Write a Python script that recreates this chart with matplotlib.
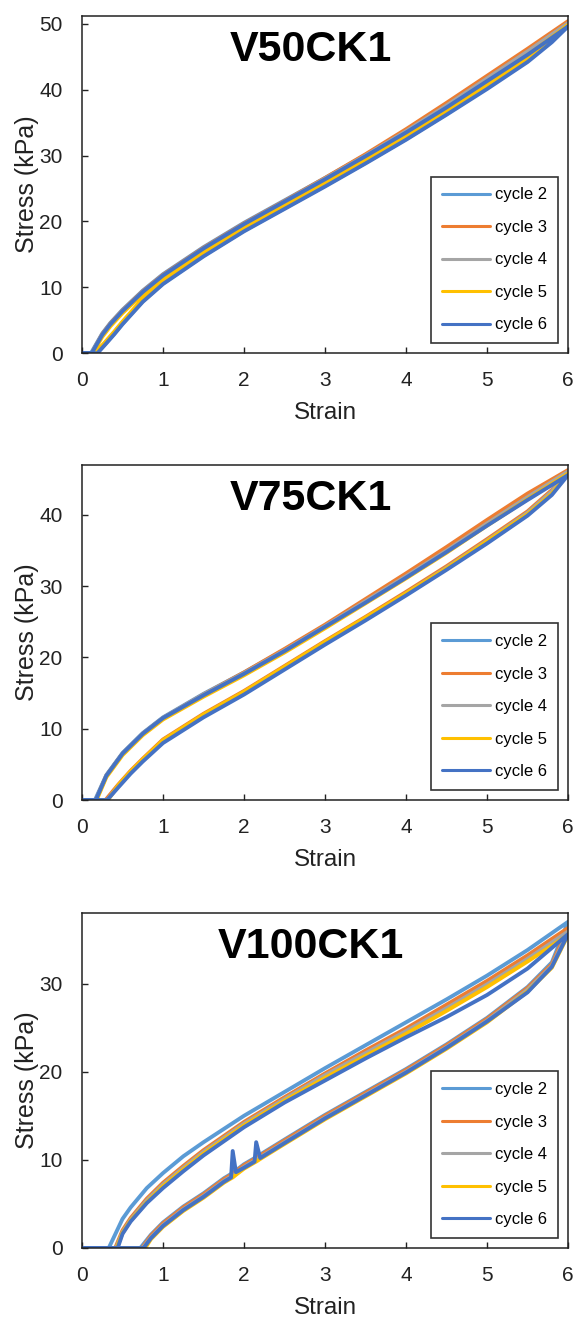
"""
Cyclic stress-strain loops (cycles 2-6) for V50CK1, V75CK1 and V100CK1.
"""

import matplotlib
matplotlib.use("Agg")
import matplotlib.pyplot as plt

plt.rcParams["font.family"] = ["Liberation Sans", "DejaVu Sans"]

cycles = ["cycle 2", "cycle 3", "cycle 4", "cycle 5", "cycle 6"]
colors = ["#5B9BD5", "#ED7D31", "#A5A5A5", "#FFC000", "#4472C4"]
titles = ["V50CK1", "V75CK1", "V100CK1"]
ylims = [51.2, 47, 38]
yticks = [[0, 10, 20, 30, 40, 50], [0, 10, 20, 30, 40], [0, 10, 20, 30]]

# ---- V50CK1 ----
v50_load_onset = [0.11, 0.12, 0.12, 0.13, 0.12]
v50_unload_onset = [0.17, 0.18, 0.18, 0.16, 0.19]
v50_load_strain = [0.25, 0.35, 0.5, 0.75, 1.0, 1.5, 2.0, 2.5, 3.0, 3.5, 4.0, 4.5, 5.0, 5.5, 6.0]
v50_load = [
    [3.0, 4.6, 6.6, 9.5, 12.0, 16.1, 19.8, 23.2, 26.6, 30.1, 33.8, 37.6, 41.7, 45.8, 50.0],
    [2.9, 4.5, 6.5, 9.4, 11.9, 16.0, 19.7, 23.1, 26.6, 30.2, 34.0, 38.0, 42.1, 46.2, 50.4],
    [2.8, 4.4, 6.4, 9.3, 11.8, 15.9, 19.6, 23.0, 26.5, 30.0, 33.7, 37.6, 41.7, 45.8, 50.1],
    [2.5, 4.1, 6.1, 9.0, 11.5, 15.6, 19.3, 22.7, 26.1, 29.6, 33.2, 37.0, 41.1, 45.2, 49.8],
    [2.8, 4.4, 6.4, 9.3, 11.8, 15.9, 19.6, 23.0, 26.4, 29.9, 33.5, 37.3, 41.3, 45.3, 49.6],
]
v50_unload_strain = [0.3, 0.4, 0.5, 0.75, 1.0, 1.5, 2.0, 2.5, 3.0, 3.5, 4.0, 4.5, 5.0, 5.5, 5.8, 6.0]
v50_unload = [
    [1.8, 3.2, 4.7, 8.1, 10.8, 15.0, 18.8, 22.2, 25.6, 29.1, 32.7, 36.5, 40.5, 44.6, 47.6, 50.0],
    [1.7, 3.1, 4.6, 8.0, 10.7, 14.9, 18.7, 22.1, 25.5, 29.0, 32.7, 36.6, 40.7, 44.9, 48.0, 50.4],
    [1.6, 3.0, 4.5, 7.9, 10.6, 14.8, 18.6, 22.0, 25.4, 28.9, 32.5, 36.3, 40.3, 44.5, 47.6, 50.1],
    [1.9, 3.3, 4.8, 8.3, 11.0, 15.2, 19.0, 22.4, 25.8, 29.3, 32.9, 36.7, 40.7, 44.8, 47.5, 49.8],
    [1.5, 2.9, 4.4, 7.8, 10.5, 14.7, 18.5, 21.9, 25.3, 28.8, 32.4, 36.2, 40.1, 44.2, 47.2, 49.6],
]

# ---- V75CK1 ----
v75_load_onset = [0.16, 0.17, 0.17, 0.18, 0.17]
v75_unload_onset = [0.30, 0.29, 0.31, 0.32, 0.31]
v75_load_strain = [0.3, 0.5, 0.75, 1.0, 1.5, 2.0, 2.5, 3.0, 3.5, 4.0, 4.5, 5.0, 5.5, 6.0]
v75_load = [
    [3.5, 6.6, 9.4, 11.6, 14.9, 17.9, 21.1, 24.5, 28.0, 31.5, 35.1, 38.9, 42.6, 46.0],
    [3.4, 6.5, 9.3, 11.5, 14.8, 17.9, 21.2, 24.6, 28.2, 31.8, 35.5, 39.3, 43.0, 46.3],
    [3.4, 6.5, 9.3, 11.5, 14.8, 17.8, 21.0, 24.4, 27.9, 31.4, 35.0, 38.8, 42.5, 46.1],
    [3.2, 6.3, 9.1, 11.3, 14.5, 17.5, 20.7, 24.1, 27.6, 31.1, 34.7, 38.5, 42.2, 45.8],
    [3.4, 6.5, 9.3, 11.5, 14.7, 17.7, 20.9, 24.3, 27.7, 31.2, 34.8, 38.5, 42.1, 45.6],
]
v75_unload_strain = [0.45, 0.6, 0.75, 1.0, 1.5, 2.0, 2.5, 3.0, 3.5, 4.0, 4.5, 5.0, 5.5, 5.8, 6.0]
v75_unload = [
    [2.0, 3.9, 5.6, 8.2, 11.8, 15.0, 18.5, 22.0, 25.4, 28.9, 32.5, 36.3, 40.2, 43.2, 46.0],
    [2.2, 4.1, 5.8, 8.5, 12.1, 15.3, 18.8, 22.3, 25.7, 29.2, 32.8, 36.6, 40.5, 43.5, 46.3],
    [2.0, 3.9, 5.6, 8.3, 11.9, 15.1, 18.6, 22.1, 25.5, 29.0, 32.6, 36.4, 40.3, 43.3, 46.1],
    [2.1, 4.0, 5.7, 8.4, 12.0, 15.2, 18.7, 22.2, 25.6, 29.0, 32.5, 36.3, 40.1, 43.0, 45.8],
    [1.8, 3.7, 5.4, 8.0, 11.6, 14.8, 18.3, 21.8, 25.2, 28.7, 32.3, 36.0, 39.9, 42.8, 45.6],
]

# ---- V100CK1 ----
v100_load_onset = [0.33, 0.41, 0.42, 0.43, 0.44]
v100_unload_onset = [0.72, 0.74, 0.75, 0.78, 0.76]
v100_load_strain = [0.5, 0.6, 0.8, 1.0, 1.25, 1.5, 2.0, 2.5, 3.0, 3.5, 4.0, 4.5, 5.0, 5.5, 6.0]
v100_load = [
    [3.3, 4.6, 6.8, 8.5, 10.4, 12.0, 15.0, 17.7, 20.4, 23.0, 25.6, 28.2, 30.9, 33.8, 37.0],
    [2.0, 3.4, 5.6, 7.4, 9.3, 11.1, 14.3, 17.1, 19.8, 22.4, 24.9, 27.6, 30.3, 33.2, 36.3],
    [1.8, 3.2, 5.4, 7.2, 9.1, 10.9, 14.1, 16.9, 19.6, 22.1, 24.6, 27.2, 29.9, 32.8, 35.9],
    [1.7, 3.1, 5.2, 7.0, 8.9, 10.7, 13.9, 16.7, 19.3, 21.8, 24.3, 26.9, 29.6, 32.5, 35.5],
    [1.6, 3.0, 5.1, 6.8, 8.7, 10.5, 13.7, 16.5, 19.0, 21.5, 23.9, 26.2, 28.7, 31.7, 35.6],
]
v100_unload_strain = [0.85, 1.0, 1.25, 1.5, 1.75, 1.84, 1.86, 1.9, 2.0, 2.13, 2.15, 2.2,
                      2.5, 3.0, 3.5, 4.0, 4.5, 5.0, 5.5, 5.8, 6.0]
v100_unload = [
    [1.5, 2.9, 4.7, 6.2, 7.9, 8.4, 8.5, 8.8, 9.5, 10.2, 10.3, 10.6,
     12.3, 15.1, 17.7, 20.3, 23.1, 26.1, 29.6, 32.4, 37.0],
    [1.4, 2.8, 4.6, 6.1, 7.8, 8.3, 8.4, 8.7, 9.4, 10.1, 10.2, 10.5,
     12.2, 15.0, 17.6, 20.2, 23.0, 26.0, 29.5, 32.2, 36.3],
    [1.2, 2.6, 4.4, 5.9, 7.6, 8.1, 8.2, 8.5, 9.2, 9.9, 10.0, 10.3,
     12.0, 14.8, 17.4, 20.0, 22.8, 25.8, 29.3, 32.0, 35.9],
    [1.0, 2.4, 4.2, 5.7, 7.4, 7.9, 8.0, 8.3, 9.0, 9.7, 9.8, 10.1,
     11.8, 14.6, 17.2, 19.8, 22.6, 25.6, 29.1, 31.8, 35.5],
    [1.1, 2.5, 4.3, 5.8, 7.5, 8.0, 11.0, 8.6, 9.1, 9.8, 12.0, 10.2,
     11.9, 14.7, 17.3, 19.9, 22.7, 25.7, 29.0, 31.9, 35.6],
]

panels = [
    (v50_load_onset, v50_load_strain, v50_load, v50_unload_onset, v50_unload_strain, v50_unload),
    (v75_load_onset, v75_load_strain, v75_load, v75_unload_onset, v75_unload_strain, v75_unload),
    (v100_load_onset, v100_load_strain, v100_load, v100_unload_onset, v100_unload_strain, v100_unload),
]

fig = plt.figure(figsize=(5.76, 13.23), dpi=100)
axes_rect = [
    [0.1424, 0.7330, 0.8438, 0.2550],
    [0.1424, 0.3953, 0.8438, 0.2532],
    [0.1424, 0.0567, 0.8438, 0.2532],
]

for k, (lon, lx, ly, uon, ux, uy) in enumerate(panels):
    ax = fig.add_axes(axes_rect[k])
    for i in range(len(cycles)):
        xs = [0, lon[i]] + lx + ux[::-1] + [uon[i], 0]
        ys = [0, 0] + ly[i] + uy[i][::-1] + [0, 0]
        ax.plot(xs, ys, color=colors[i], lw=2.8, label=cycles[i],
                solid_joinstyle="round", solid_capstyle="round")

    ax.set_xlim(0, 6)
    ax.set_ylim(0, ylims[k])
    ax.set_xticks(range(7))
    ax.set_yticks(yticks[k])
    ax.tick_params(direction="in", length=4, width=1, labelsize=15,
                   colors="#222222")
    ax.tick_params(axis="y", pad=14)
    ax.tick_params(axis="x", pad=13)
    for s in ax.spines.values():
        s.set_linewidth(1.1)
        s.set_color("#222222")

    ax.set_xlabel("Strain", fontsize=17.5, color="#222222")
    ax.set_ylabel("Stress (kPa)", fontsize=18, color="#222222")
    ax.xaxis.set_label_coords(0.5, -0.145)
    ax.yaxis.set_label_coords(-0.088, 0.5)

    ax.text(0.47, 0.90, titles[k], transform=ax.transAxes, ha="center",
            va="center", fontsize=31, fontweight="bold", color="black")

    leg = ax.legend(loc="lower right", fontsize=12, frameon=True, fancybox=False,
                    handlelength=2.9, handletextpad=0.3, labelspacing=1.05,
                    borderpad=0.65, borderaxespad=0.6)
    leg.get_frame().set_edgecolor("black")
    leg.get_frame().set_linewidth(1.2)
    for line in leg.get_lines():
        line.set_linewidth(2.2)

fig.savefig("out.png", dpi=100)
